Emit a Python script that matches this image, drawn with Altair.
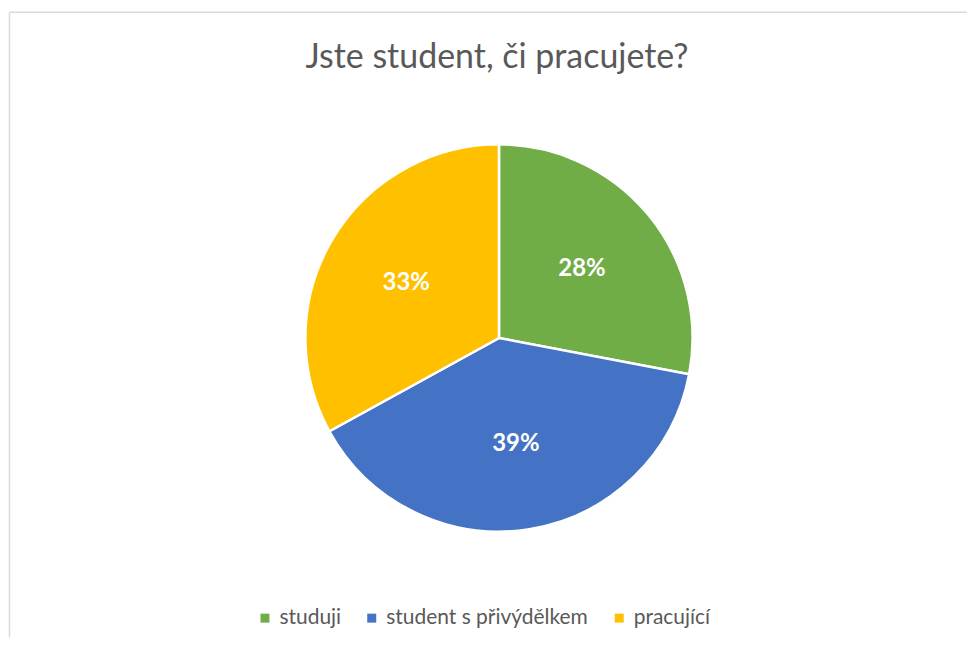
import altair as alt
import pandas as pd

categories = ["studuji", "student s přivýdělkem", "pracující"]
values = [28, 39, 33]
colors = ["#70AD47", "#4472C4", "#FFC000"]
title_text = "Jste student, či pracujete?"

df = pd.DataFrame({
    "cat": categories,
    "val": values,
    "idx": list(range(len(categories))),
    "label": [f"{v}%" for v in values],
})

W, H = 960, 630
CX, CY = 491, 330
FONT = "Lato"

base = alt.Chart(df).encode(
    theta=alt.Theta("val:Q", stack=True),
    order=alt.Order("idx:Q"),
)

pie = base.mark_arc(radius=194, stroke="white", strokeWidth=2.5).encode(
    x=alt.value(CX), y=alt.value(CY),
    color=alt.Color(
        "cat:N",
        scale=alt.Scale(domain=categories, range=colors),
        sort=categories,
        legend=alt.Legend(
            orient="none", legendX=246, legendY=600, direction="horizontal",
            title=None, symbolType="square", symbolSize=81, symbolStrokeWidth=0,
            labelFontSize=21, labelFont=FONT, labelColor="#595959", labelLimit=500,
            labelOffset=4, columnPadding=20, padding=0,
        ),
    ),
)

labels = base.mark_text(
    radius=108, font=FONT, fontSize=24, fontWeight="bold", color="white",
    align="center", baseline="middle",
).encode(x=alt.value(CX), y=alt.value(CY), text="label:N")

title = alt.Chart(pd.DataFrame({"t": [title_text]})).mark_text(
    font=FONT, fontSize=34, color="#595959", align="center", baseline="alphabetic",
).encode(x=alt.value(489), y=alt.value(59), text="t:N")

frame_top = alt.Chart(pd.DataFrame({"a": [0]})).mark_rule(color="#d9d9d9", strokeWidth=1.5).encode(
    x=alt.value(0.5), x2=alt.value(W), y=alt.value(3.5))
frame_left = alt.Chart(pd.DataFrame({"a": [0]})).mark_rule(color="#d9d9d9", strokeWidth=1.5).encode(
    x=alt.value(0.5), y=alt.value(3.5), y2=alt.value(H))

chart = alt.layer(frame_top, frame_left, pie, labels, title).properties(
    width=W, height=H, padding=0, background="white",
).configure_view(stroke="transparent", strokeWidth=0)

chart.save("out.html", embed_options={"renderer": "svg", "actions": False})
